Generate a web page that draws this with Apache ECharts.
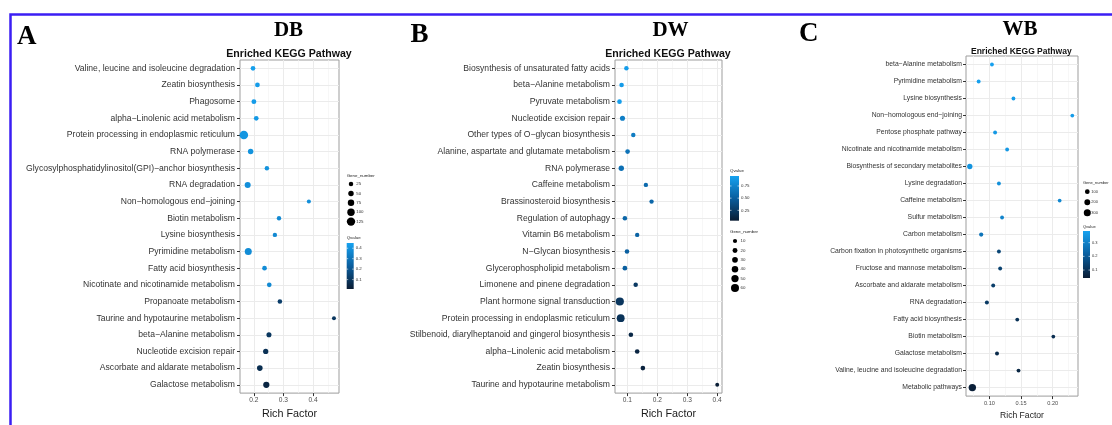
<!DOCTYPE html>
<html>
<head>
<meta charset="utf-8">
<script src="https://cdn.jsdelivr.net/npm/echarts@6/dist/echarts.min.js"></script>
<style>
  html, body { margin: 0; padding: 0; background: #fff; }
  #main { width: 1112px; height: 425px; }
</style>
</head>
<body>
<div id="main"></div>
<script>
// A - DB
const pathwaysDB = [
  'Valine, leucine and isoleucine degradation', 'Zeatin biosynthesis', 'Phagosome',
  'alpha−Linolenic acid metabolism', 'Protein processing in endoplasmic reticulum', 'RNA polymerase',
  'Glycosylphosphatidylinositol(GPI)−anchor biosynthesis', 'RNA degradation', 'Non−homologous end−joining',
  'Biotin metabolism', 'Lysine biosynthesis', 'Pyrimidine metabolism', 'Fatty acid biosynthesis',
  'Nicotinate and nicotinamide metabolism', 'Propanoate metabolism', 'Taurine and hypotaurine metabolism',
  'beta−Alanine metabolism', 'Nucleotide excision repair', 'Ascorbate and aldarate metabolism', 'Galactose metabolism'
];
const richDB = [0.197, 0.212, 0.200, 0.208, 0.166, 0.189, 0.244, 0.179, 0.386, 0.285,
  0.271, 0.181, 0.236, 0.252, 0.288, 0.471, 0.251, 0.240, 0.220, 0.242];
const geneDB = [30, 32, 35, 30, 130, 50, 25, 65, 15, 22, 22, 90, 30, 30, 28, 12, 40, 45, 55, 70];
const qDB = [0.44, 0.43, 0.43, 0.42, 0.41, 0.40, 0.40, 0.39, 0.39, 0.37,
  0.37, 0.38, 0.38, 0.37, 0.12, 0.10, 0.10, 0.08, 0.07, 0.04];

// B - DW
const pathwaysDW = [
  'Biosynthesis of unsaturated fatty acids', 'beta−Alanine metabolism', 'Pyruvate metabolism',
  'Nucleotide excision repair', 'Other types of O−glycan biosynthesis', 'Alanine, aspartate and glutamate metabolism',
  'RNA polymerase', 'Caffeine metabolism', 'Brassinosteroid biosynthesis', 'Regulation of autophagy',
  'Vitamin B6 metabolism', 'N−Glycan biosynthesis', 'Glycerophospholipid metabolism', 'Limonene and pinene degradation',
  'Plant hormone signal transduction', 'Protein processing in endoplasmic reticulum',
  'Stilbenoid, diarylheptanoid and gingerol biosynthesis', 'alpha−Linolenic acid metabolism',
  'Zeatin biosynthesis', 'Taurine and hypotaurine metabolism'
];
const richDW = [0.097, 0.081, 0.074, 0.084, 0.120, 0.101, 0.080, 0.162, 0.181, 0.092,
  0.133, 0.099, 0.092, 0.128, 0.075, 0.078, 0.112, 0.133, 0.152, 0.400];
const geneDW = [14, 15, 16, 22, 13, 16, 25, 12, 12, 15, 12, 15, 17, 14, 62, 58, 15, 16, 16, 6];
const qDW = [0.92, 0.91, 0.93, 0.72, 0.70, 0.64, 0.62, 0.58, 0.56, 0.55,
  0.53, 0.51, 0.50, 0.24, 0.22, 0.20, 0.12, 0.10, 0.08, 0.05];

// C - WB
const pathwaysWB = [
  'beta−Alanine metabolism', 'Pyrimidine metabolism', 'Lysine biosynthesis', 'Non−homologous end−joining',
  'Pentose phosphate pathway', 'Nicotinate and nicotinamide metabolism', 'Biosynthesis of secondary metabolites',
  'Lysine degradation', 'Caffeine metabolism', 'Sulfur metabolism', 'Carbon metabolism',
  'Carbon fixation in photosynthetic organisms', 'Fructose and mannose metabolism',
  'Ascorbate and aldarate metabolism', 'RNA degradation', 'Fatty acid biosynthesis', 'Biotin metabolism',
  'Galactose metabolism', 'Valine, leucine and isoleucine degradation', 'Metabolic pathways'
];
const richWB = [0.104, 0.083, 0.138, 0.231, 0.109, 0.128, 0.069, 0.115, 0.211, 0.120,
  0.087, 0.115, 0.117, 0.106, 0.096, 0.144, 0.201, 0.112, 0.146, 0.073];
const geneWB = [25, 30, 20, 12, 28, 22, 150, 25, 15, 25, 55, 30, 30, 30, 40, 18, 15, 30, 25, 330];
const qWB = [0.38, 0.38, 0.37, 0.37, 0.36, 0.36, 0.35, 0.34, 0.32, 0.31,
  0.27, 0.15, 0.14, 0.13, 0.12, 0.10, 0.09, 0.08, 0.07, 0.05];

// ticks / legend keys
const xTicksDB = [0.2, 0.3, 0.4];
const xTicksDW = [0.1, 0.2, 0.3, 0.4];
const xTicksWB = [0.10, 0.15, 0.20];
const geneTicksDB = [25, 50, 75, 100, 125];
const geneTicksDW = [10, 20, 30, 40, 50, 60];
const geneTicksWB = [100, 200, 300];
const qTicksDB = [0.1, 0.2, 0.3, 0.4];
const qTicksDW = [0.25, 0.5, 0.75];
const qTicksWB = [0.1, 0.2, 0.3];

const qColors = ['#0a1c33', '#0a5e9e', '#16a2f0'];
const SANS = "'Liberation Sans', Arial, sans-serif";
const SERIF = "'Liberation Serif', 'Times New Roman', serif";

const panels = [
  {
    letter: 'A', name: 'DB', names: pathwaysDB, rich: richDB, gene: geneDB, q: qDB,
    grid: { left: 240, top: 60, width: 99, height: 342 },
    xMin: 0.153, xMax: 0.488, split: 3, xTicks: xTicksDB, xDec: 1,
    labelSize: 8.6, labelMargin: 5, tickSize: 6.6, nameSize: 10.8, titleSize: 10.6,
    letterPos: [17, 37], namePos: [288.5, 30.5], titlePos: [289, 54.2],
    qRange: [0.01, 0.45], geneRange: [10, 130], sizeRange: [3.9, 8.6],
    geneTicks: geneTicksDB, qTicks: qTicksDB, qDec: 1,
    leg: { x: 346.7, geneTitleY: 175.7, geneY0: 184, geneStep: 9.4, dotX: 351, labX: 356.2,
      qTitleY: 237.7, barY: 243, barW: 7, barH: 46, font: 4.4 }
  },
  {
    letter: 'B', name: 'DW', names: pathwaysDW, rich: richDW, gene: geneDW, q: qDW,
    grid: { left: 615, top: 60, width: 107, height: 342 },
    xMin: 0.059, xMax: 0.416, split: 4, xTicks: xTicksDW, xDec: 1,
    labelSize: 8.6, labelMargin: 5, tickSize: 6.6, nameSize: 10.8, titleSize: 10.6,
    letterPos: [410.5, 35.5], namePos: [670.5, 30.5], titlePos: [668, 54.5],
    qRange: [0.037, 0.955], geneRange: [5, 62], sizeRange: [3.8, 8.2],
    geneTicks: geneTicksDW, qTicks: qTicksDW, qDec: 2,
    leg: { x: 730, geneTitleY: 231.7, geneY0: 241, geneStep: 9.4, dotX: 735, labX: 740.5,
      qTitleY: 170.7, barY: 176, barW: 9, barH: 44.7, font: 4.4 }
  },
  {
    letter: 'C', name: 'WB', names: pathwaysWB, rich: richWB, gene: geneWB, q: qWB,
    grid: { left: 966, top: 56, width: 112, height: 346 },
    xMin: 0.063, xMax: 0.240, split: 3, xTicks: xTicksWB, xDec: 2,
    labelSize: 6.8, labelMargin: 4, tickSize: 5.6, nameSize: 8.6, titleSize: 8.5,
    letterPos: [799, 34.5], namePos: [1020, 29.5], titlePos: [1021.3, 51.2],
    qRange: [0.042, 0.385], geneRange: [10, 330], sizeRange: [3.7, 7.4],
    geneTicks: geneTicksWB, qTicks: qTicksWB, qDec: 1,
    leg: { x: 1083, geneTitleY: 183.3, geneY0: 191.7, geneStep: 10.5, dotX: 1087.3, labX: 1091.2,
      qTitleY: 227.3, barY: 231, barW: 7, barH: 47, font: 4 }
  }
];

function sizeOf(p, g) {
  const t = Math.max(0, Math.min(1, (g - p.geneRange[0]) / (p.geneRange[1] - p.geneRange[0])));
  return p.sizeRange[0] + t * (p.sizeRange[1] - p.sizeRange[0]);
}

function txt(x, y, text, size, opts) {
  const o = opts || {};
  return {
    type: 'text', silent: true,
    style: {
      text: text, x: x, y: y,
      fontSize: size, fontFamily: o.family || SANS, fontWeight: o.weight || 'normal',
      fill: o.color || '#333',
      align: o.align || 'left', textAlign: o.align || 'left',
      verticalAlign: 'middle', textVerticalAlign: 'middle'
    }
  };
}

const grids = [], xAxes = [], yAxes = [], series = [], visualMaps = [];
const graphics = [
  // blue frame round the figure
  { type: 'rect', silent: true, z: 100, shape: { x: 10.5, y: 14.5, width: 1300, height: 600 },
    style: { fill: 'none', stroke: '#3b1ef4', lineWidth: 2.5 } }
];

panels.forEach((p, i) => {
  grids.push(Object.assign({ show: true, borderColor: '#9d9d9d', borderWidth: 1, backgroundColor: '#fff' }, p.grid));

  xAxes.push({
    type: 'value', gridIndex: i, min: p.xMin, max: p.xMax, splitNumber: p.split,
    name: 'Rich Factor', nameLocation: 'middle', nameGap: 10,
    nameTextStyle: { fontSize: p.nameSize, fontFamily: SANS, color: '#1a1a1a' },
    axisLine: { show: false },
    axisTick: { show: true, length: 3, customValues: p.xTicks, lineStyle: { color: '#333' } },
    axisLabel: {
      customValues: p.xTicks,
      fontSize: p.tickSize, fontFamily: SANS, color: '#4d4d4d', margin: 4,
      formatter: v => v.toFixed(p.xDec)
    },
    splitLine: { show: true, lineStyle: { color: '#ebebeb', width: 1 } },
    minorTick: { show: false, splitNumber: 2 },
    minorSplitLine: { show: true, lineStyle: { color: '#f4f4f4', width: 0.7 } }
  });

  // category axis: labels + horizontal grid lines (long inside ticks)
  yAxes.push({
    type: 'category', gridIndex: i, position: 'left', data: p.names, inverse: true,
    axisLine: { show: false },
    axisTick: { show: true, inside: true, alignWithLabel: true, interval: 0, length: p.grid.width,
      lineStyle: { color: '#ebebeb', width: 1 } },
    axisLabel: { interval: 0, fontSize: p.labelSize, fontFamily: SANS, color: '#333', margin: p.labelMargin },
    splitLine: { show: false }
  });
  // same axis, only the short outside ticks
  yAxes.push({
    type: 'category', gridIndex: i, position: 'left', offset: 0, data: p.names, inverse: true,
    axisLine: { show: false },
    axisTick: { show: true, alignWithLabel: true, interval: 0, length: 3, lineStyle: { color: '#333' } },
    axisLabel: { show: false },
    splitLine: { show: false }
  });

  series.push({
    type: 'scatter', name: p.name, xAxisIndex: i, yAxisIndex: 2 * i,
    symbol: 'circle',
    encode: { x: 0, y: 1 },
    itemStyle: { opacity: 1 },
    data: p.names.map((n, k) => [p.rich[k], n, p.gene[k], p.q[k]]),
    z: 3
  });

  visualMaps.push({
    type: 'continuous', show: false, seriesIndex: i, dimension: 3,
    min: p.qRange[0], max: p.qRange[1], inRange: { color: qColors }
  });
  visualMaps.push({
    type: 'continuous', show: false, seriesIndex: i, dimension: 2,
    min: p.geneRange[0], max: p.geneRange[1], inRange: { symbolSize: p.sizeRange }
  });

  // panel letter, sample name, plot title
  graphics.push(txt(p.letterPos[0], p.letterPos[1], p.letter, 27, { family: SERIF, weight: 'bold', color: '#000' }));
  graphics.push(txt(p.namePos[0], p.namePos[1], p.name, 21, { family: SERIF, weight: 'bold', color: '#000', align: 'center' }));
  graphics.push(txt(p.titlePos[0], p.titlePos[1], 'Enriched KEGG Pathway', p.titleSize, { weight: 'bold', color: '#111', align: 'center' }));

  // Gene_number legend
  const L = p.leg;
  graphics.push(txt(L.x, L.geneTitleY, 'Gene_number', L.font, { color: '#222' }));
  p.geneTicks.forEach((g, k) => {
    const y = L.geneY0 + k * L.geneStep;
    graphics.push({ type: 'circle', silent: true, shape: { cx: L.dotX, cy: y, r: sizeOf(p, g) / 2 }, style: { fill: '#000' } });
    graphics.push(txt(L.labX, y, String(g), L.font, { color: '#333' }));
  });

  // Qvalue colour bar
  graphics.push(txt(L.x, L.qTitleY, 'Qvalue', L.font, { color: '#222' }));
  graphics.push({
    type: 'rect', silent: true,
    shape: { x: L.x, y: L.barY, width: L.barW, height: L.barH },
    style: {
      fill: {
        type: 'linear', x: 0, y: 0, x2: 0, y2: 1,
        colorStops: [
          { offset: 0, color: qColors[2] },
          { offset: 0.5, color: qColors[1] },
          { offset: 1, color: qColors[0] }
        ]
      }
    }
  });
  p.qTicks.forEach(v => {
    const y = L.barY + L.barH - (v - p.qRange[0]) / (p.qRange[1] - p.qRange[0]) * L.barH;
    graphics.push({ type: 'line', silent: true, shape: { x1: L.x, y1: y, x2: L.x + 1.5, y2: y }, style: { stroke: '#fff', lineWidth: 0.6 } });
    graphics.push({ type: 'line', silent: true, shape: { x1: L.x + L.barW - 1.5, y1: y, x2: L.x + L.barW, y2: y }, style: { stroke: '#fff', lineWidth: 0.6 } });
    graphics.push(txt(L.x + L.barW + 2, y, v.toFixed(p.qDec), L.font, { color: '#333' }));
  });
});

const chart = echarts.init(document.getElementById('main'), null, { renderer: 'canvas' });
chart.setOption({
  backgroundColor: '#fff',
  animation: false,
  grid: grids,
  xAxis: xAxes,
  yAxis: yAxes,
  visualMap: visualMaps,
  series: series,
  graphic: { elements: graphics }
});
</script>
</body>
</html>
